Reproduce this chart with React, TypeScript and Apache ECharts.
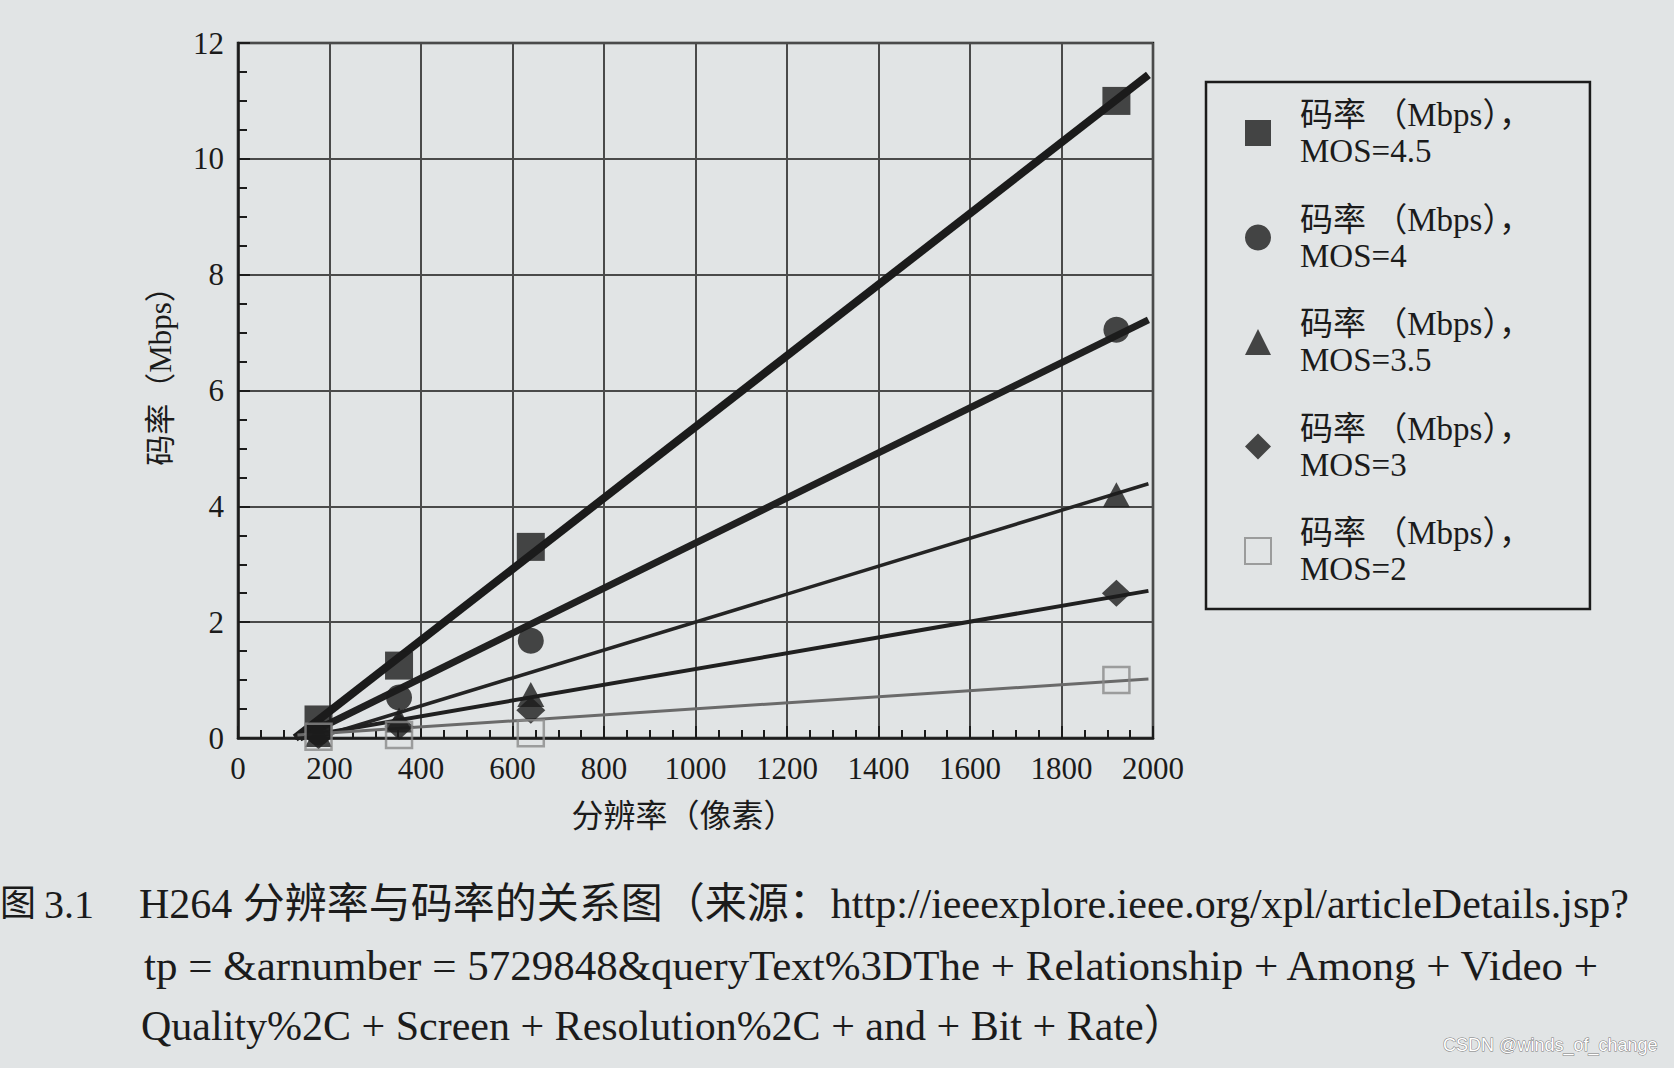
import React, { useEffect, useRef } from "react";
import * as echarts from "echarts";

// ---- data ----
const resolution = [176, 352, 640, 1920];
const mos45 = [0.32, 1.25, 3.3, 11.0];
const mos4 = [0.1, 0.7, 1.68, 7.05];
const mos35 = [0.06, 0.31, 0.75, 4.2];
const mos3 = [0.04, 0.2, 0.48, 2.5];
const mos2 = [0.02, 0.05, 0.08, 1.0];

// fitted straight lines: start / end points per MOS level
const fitStartX = [125, 135, 170, 125, 130];
const fitStartY = [0, 0, 0, 0, 0.05];
const fitEndX = [1990, 1990, 1990, 1990, 1990];
const fitEndY = [11.45, 7.22, 4.39, 2.54, 1.02];

const seriesNames = [
  "码率 （Mbps），\nMOS=4.5",
  "码率 （Mbps），\nMOS=4",
  "码率 （Mbps），\nMOS=3.5",
  "码率 （Mbps），\nMOS=3",
  "码率 （Mbps），\nMOS=2",
];
const seriesValues = [mos45, mos4, mos35, mos3, mos2];

const xMin = 0;
const xMax = 2000;
const xInterval = 200;
const yMin = 0;
const yMax = 12;
const yInterval = 2;

const xAxisName = "分辨率（像素）";
const yAxisName = "码率（Mbps）";

const captionLabel = "3.1";
const captionLine1 = "H264 分辨率与码率的关系图（来源：http://ieeexplore.ieee.org/xpl/articleDetails.jsp?";
const captionLine2 = "tp = &arnumber = 5729848&queryText%3DThe + Relationship + Among + Video +";
const captionLine3 = "Quality%2C + Screen + Resolution%2C + and + Bit + Rate）";
const watermark = "CSDN @winds_of_change";

const FONT = "'Liberation Serif', 'Noto Sans CJK SC', serif";
const INK = "#1b1b1b";

export default function App() {
  const ref = useRef<HTMLDivElement>(null);

  useEffect(() => {
    if (!ref.current) return;
    const chart = echarts.init(ref.current, undefined, { renderer: "svg" });

    const symbols = ["rect", "circle", "triangle", "diamond", "rect"];
    const sizes = [28, 26, [27, 25], [29, 27], 26];
    const lineWidths = [8, 7, 3.5, 4, 3];
    const lineColors = [INK, "#202020", "#242424", "#202020", "#6a6a6a"];

    const lineSeries = seriesValues.map((_, i) => ({
      type: "line",
      data: [
        [fitStartX[i], fitStartY[i]],
        [fitEndX[i], fitEndY[i]],
      ],
      showSymbol: false,
      symbol: "none",
      silent: true,
      z: 2,
      lineStyle: { color: lineColors[i], width: lineWidths[i] },
    }));

    const scatterSeries = seriesValues.map((vals, i) => ({
      type: "scatter",
      name: seriesNames[i],
      data: resolution.map((x, j) => [x, vals[j]]),
      symbol: symbols[i],
      symbolSize: sizes[i],
      z: 3,
      itemStyle:
        i === 4
          ? { color: "rgba(0,0,0,0)", borderColor: "#8a8a8a", borderWidth: 2.5 }
          : { color: "#1c1c1c" },
    }));

    chart.setOption({
      animation: false,
      backgroundColor: "#e1e4e5",
      textStyle: { fontFamily: FONT },
      grid: {
        left: 238,
        right: 521,
        top: 43,
        bottom: 330,
        show: true,
        borderColor: INK,
        borderWidth: 2.5,
        backgroundColor: "transparent",
      },
      legend: {
        orient: "vertical",
        left: 1206,
        top: 82,
        data: seriesNames,
        itemWidth: 26,
        itemHeight: 26,
        itemGap: 32.5,
        padding: [15, 58, 22, 38],
        borderColor: INK,
        borderWidth: 2.5,
        selectedMode: false,
        textStyle: {
          fontFamily: FONT,
          fontSize: 33,
          lineHeight: 36,
          color: INK,
          padding: [0, 0, 0, 24],
        },
      },
      xAxis: {
        type: "value",
        min: xMin,
        max: xMax,
        interval: xInterval,
        name: xAxisName,
        nameLocation: "middle",
        nameGap: 62,
        nameTextStyle: { fontSize: 32, color: INK, fontFamily: FONT, padding: [0, 24, 0, 0] },
        axisLine: { show: true, lineStyle: { color: INK, width: 2.5 } },
        axisTick: { show: true, inside: true, length: 12, lineStyle: { color: INK, width: 2 } },
        minorTick: { show: true, splitNumber: 4, length: 8, lineStyle: { color: INK, width: 2 } },
        axisLabel: {
          fontSize: 31,
          color: INK,
          margin: 15,
          fontFamily: FONT,
          formatter: (v: number) => String(v),
        },
        splitLine: { show: true, lineStyle: { color: "#4a4a4a", width: 2 } },
      },
      yAxis: {
        type: "value",
        min: yMin,
        max: yMax,
        interval: yInterval,
        name: yAxisName,
        nameLocation: "middle",
        nameGap: 62,
        nameTextStyle: { fontSize: 31, color: INK, fontFamily: FONT, padding: [0, 0, 0, 44] },
        axisLine: { show: true, lineStyle: { color: INK, width: 2.5 } },
        axisTick: { show: true, inside: true, length: 12, lineStyle: { color: INK, width: 2 } },
        minorTick: { show: true, splitNumber: 4, length: 9, lineStyle: { color: INK, width: 2 } },
        axisLabel: {
          fontSize: 31,
          color: INK,
          margin: 14,
          fontFamily: FONT,
          formatter: (v: number) => String(v),
        },
        splitLine: { show: true, lineStyle: { color: "#4a4a4a", width: 2 } },
      },
      graphic: [
        {
          type: "text",
          left: 0,
          top: 886,
          style: { text: "图", fontSize: 36, fill: INK, fontFamily: FONT },
        },
        {
          type: "text",
          left: 44,
          top: 884,
          style: { text: captionLabel, fontSize: 40, fill: INK, fontFamily: FONT },
        },
        {
          type: "text",
          left: 139,
          top: 883,
          style: { text: captionLine1, fontSize: 42, fill: INK, fontFamily: FONT },
        },
        {
          type: "text",
          left: 144,
          top: 944,
          style: { text: captionLine2, fontSize: 43, fill: INK, fontFamily: FONT },
        },
        {
          type: "text",
          left: 141,
          top: 1005,
          style: { text: captionLine3, fontSize: 42, fill: INK, fontFamily: FONT },
        },
        {
          type: "text",
          right: 16,
          top: 1035,
          style: {
            text: watermark,
            fontSize: 18,
            fill: "#ffffff",
            fontFamily: "'Liberation Sans', sans-serif",
            stroke: "#7a7a7a",
            lineWidth: 1,
          },
        },
      ],
      series: [...lineSeries, ...scatterSeries],
    });

    return () => chart.dispose();
  }, []);

  return (
    <div
      ref={ref}
      style={{ position: "fixed", left: 0, top: 0, width: "1674px", height: "1068px" }}
    />
  );
}
